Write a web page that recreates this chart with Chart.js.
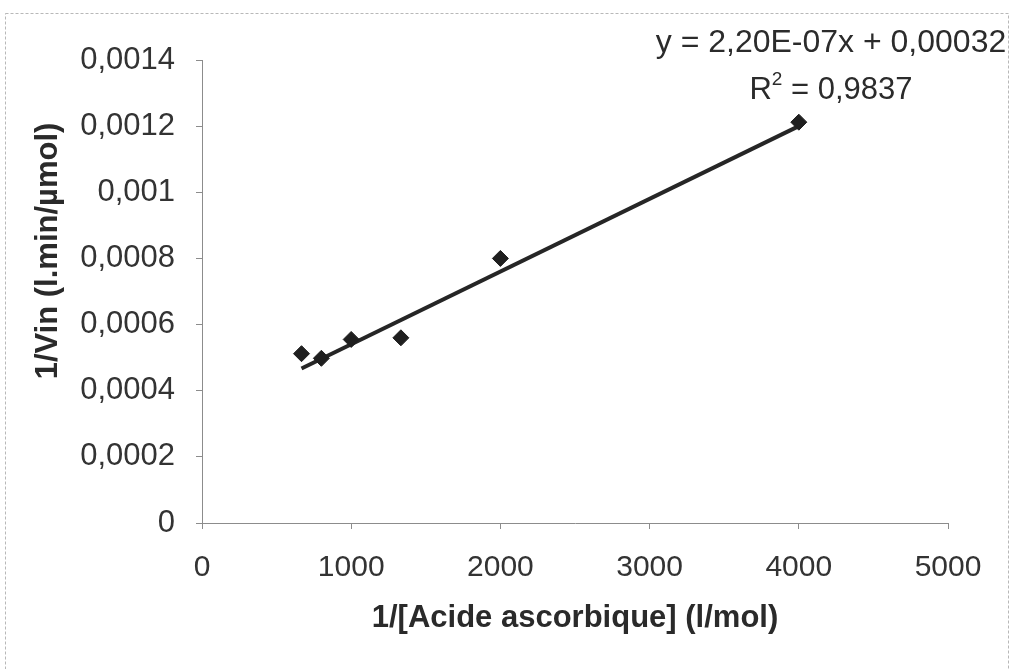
<!DOCTYPE html>
<html>
<head>
<meta charset="utf-8">
<script src="https://cdn.jsdelivr.net/npm/chart.js@4.4.0/dist/chart.umd.min.js"></script>
<style>
  html, body { margin: 0; padding: 0; background: #fff; }
  #wrap { position: relative; width: 1011px; height: 669px; }
</style>
</head>
<body>
<div id="wrap"><canvas id="c" width="1011" height="669"></canvas></div>
<script>
// valeurs
const invSubstrate = [667, 800, 1000, 1333, 2000, 4000];
const invRate = [0.000512, 0.000498, 0.000555, 0.00056, 0.0008, 0.001212];

// droite de tendance (extrémités)
const trendX = [667, 4000];
const trendY = [0.000467, 0.0012];

const eqText = 'y = 2,20E-07x + 0,00032';
const r2Value = '0,9837';
const yTitle = '1/Vin (l.min/µmol)';
const xTitle = '1/[Acide ascorbique] (l/mol)';

const xTicks = [0, 1000, 2000, 3000, 4000, 5000];
const yTicks = [0, 0.0002, 0.0004, 0.0006, 0.0008, 0.001, 0.0012, 0.0014];

const fontFamily = '"Liberation Sans", Arial, sans-serif';

const fmt = (v) => String(Number(v.toFixed(6))).replace('.', ',');

// cadre pointillé, titre vertical et équation
const extras = {
  id: 'extras',
  beforeDraw(chart) {
    const ctx = chart.ctx;
    ctx.save();
    ctx.fillStyle = '#fff';
    ctx.fillRect(0, 0, chart.width, chart.height);
    ctx.strokeStyle = '#b8b8b8';
    ctx.lineWidth = 1;
    ctx.setLineDash([3, 2]);
    ctx.strokeRect(5.5, 13.5, 1003, 700);
    ctx.restore();
  },
  afterDraw(chart) {
    const ctx = chart.ctx;
    ctx.save();

    // titre de l'axe y (placé plus haut que le centre de l'axe)
    ctx.save();
    ctx.translate(48, 251);
    ctx.rotate(-Math.PI / 2);
    ctx.font = 'bold 31px ' + fontFamily;
    ctx.fillStyle = '#2a2a2a';
    ctx.textAlign = 'center';
    ctx.textBaseline = 'middle';
    ctx.fillText(yTitle, 0, 0);
    ctx.restore();

    ctx.fillStyle = '#2b2b2b';
    ctx.textBaseline = 'alphabetic';
    ctx.font = '32px ' + fontFamily;
    ctx.textAlign = 'center';
    ctx.fillText(eqText, 831, 52);

    // R² avec exposant
    ctx.font = '31px ' + fontFamily;
    const a = 'R';
    const b = ' = ' + r2Value;
    const wa = ctx.measureText(a).width;
    const wb = ctx.measureText(b).width;
    ctx.font = '19px ' + fontFamily;
    const ws = ctx.measureText('2').width;
    const x0 = 831 - (wa + ws + wb) / 2;
    ctx.textAlign = 'left';
    ctx.font = '31px ' + fontFamily;
    ctx.fillText(a, x0, 99);
    ctx.font = '19px ' + fontFamily;
    ctx.fillText('2', x0 + wa, 85);
    ctx.font = '31px ' + fontFamily;
    ctx.fillText(b, x0 + wa + ws, 99);
    ctx.restore();
  }
};

new Chart(document.getElementById('c'), {
  type: 'scatter',
  plugins: [extras],
  data: {
    datasets: [
      {
        data: invSubstrate.map((x, i) => ({ x: x, y: invRate[i] })),
        pointStyle: 'rectRot',
        pointRadius: 8,
        backgroundColor: '#1f1f1f',
        borderColor: '#1f1f1f',
        borderWidth: 1,
        showLine: false
      },
      {
        type: 'line',
        data: trendX.map((x, i) => ({ x: x, y: trendY[i] })),
        borderColor: '#262626',
        borderWidth: 4,
        pointRadius: 0,
        fill: false
      }
    ]
  },
  options: {
    responsive: false,
    animation: false,
    layout: { padding: { top: 60, right: 63, left: 0, bottom: 0 } },
    plugins: {
      legend: { display: false },
      tooltip: { enabled: false }
    },
    scales: {
      x: {
        type: 'linear',
        min: 0,
        max: 5000,
        afterBuildTicks: (s) => { s.ticks = xTicks.map(v => ({ value: v })); },
        afterFit: (s) => { s.height = 146; },
        border: { display: true, color: '#8c8c8c', width: 1 },
        grid: { display: true, drawOnChartArea: false, drawTicks: true, tickLength: 6, color: '#8c8c8c' },
        ticks: {
          padding: 21,
          color: '#333',
          font: { family: fontFamily, size: 30 },
          callback: (v) => fmt(v)
        },
        title: {
          display: true,
          text: xTitle,
          color: '#2a2a2a',
          font: { family: fontFamily, size: 31, weight: 'bold' },
          padding: { top: 0, bottom: 32 }
        }
      },
      y: {
        type: 'linear',
        min: 0,
        max: 0.0014,
        afterBuildTicks: (s) => { s.ticks = yTicks.map(v => ({ value: v })); },
        afterFit: (s) => { s.width = 202; },
        border: { display: true, color: '#8c8c8c', width: 1 },
        grid: { display: true, drawOnChartArea: false, drawTicks: true, tickLength: 6, color: '#8c8c8c' },
        ticks: {
          padding: 21,
          color: '#333',
          font: { family: fontFamily, size: 31 },
          callback: (v) => fmt(v)
        }
      }
    }
  }
});
</script>
</body>
</html>
